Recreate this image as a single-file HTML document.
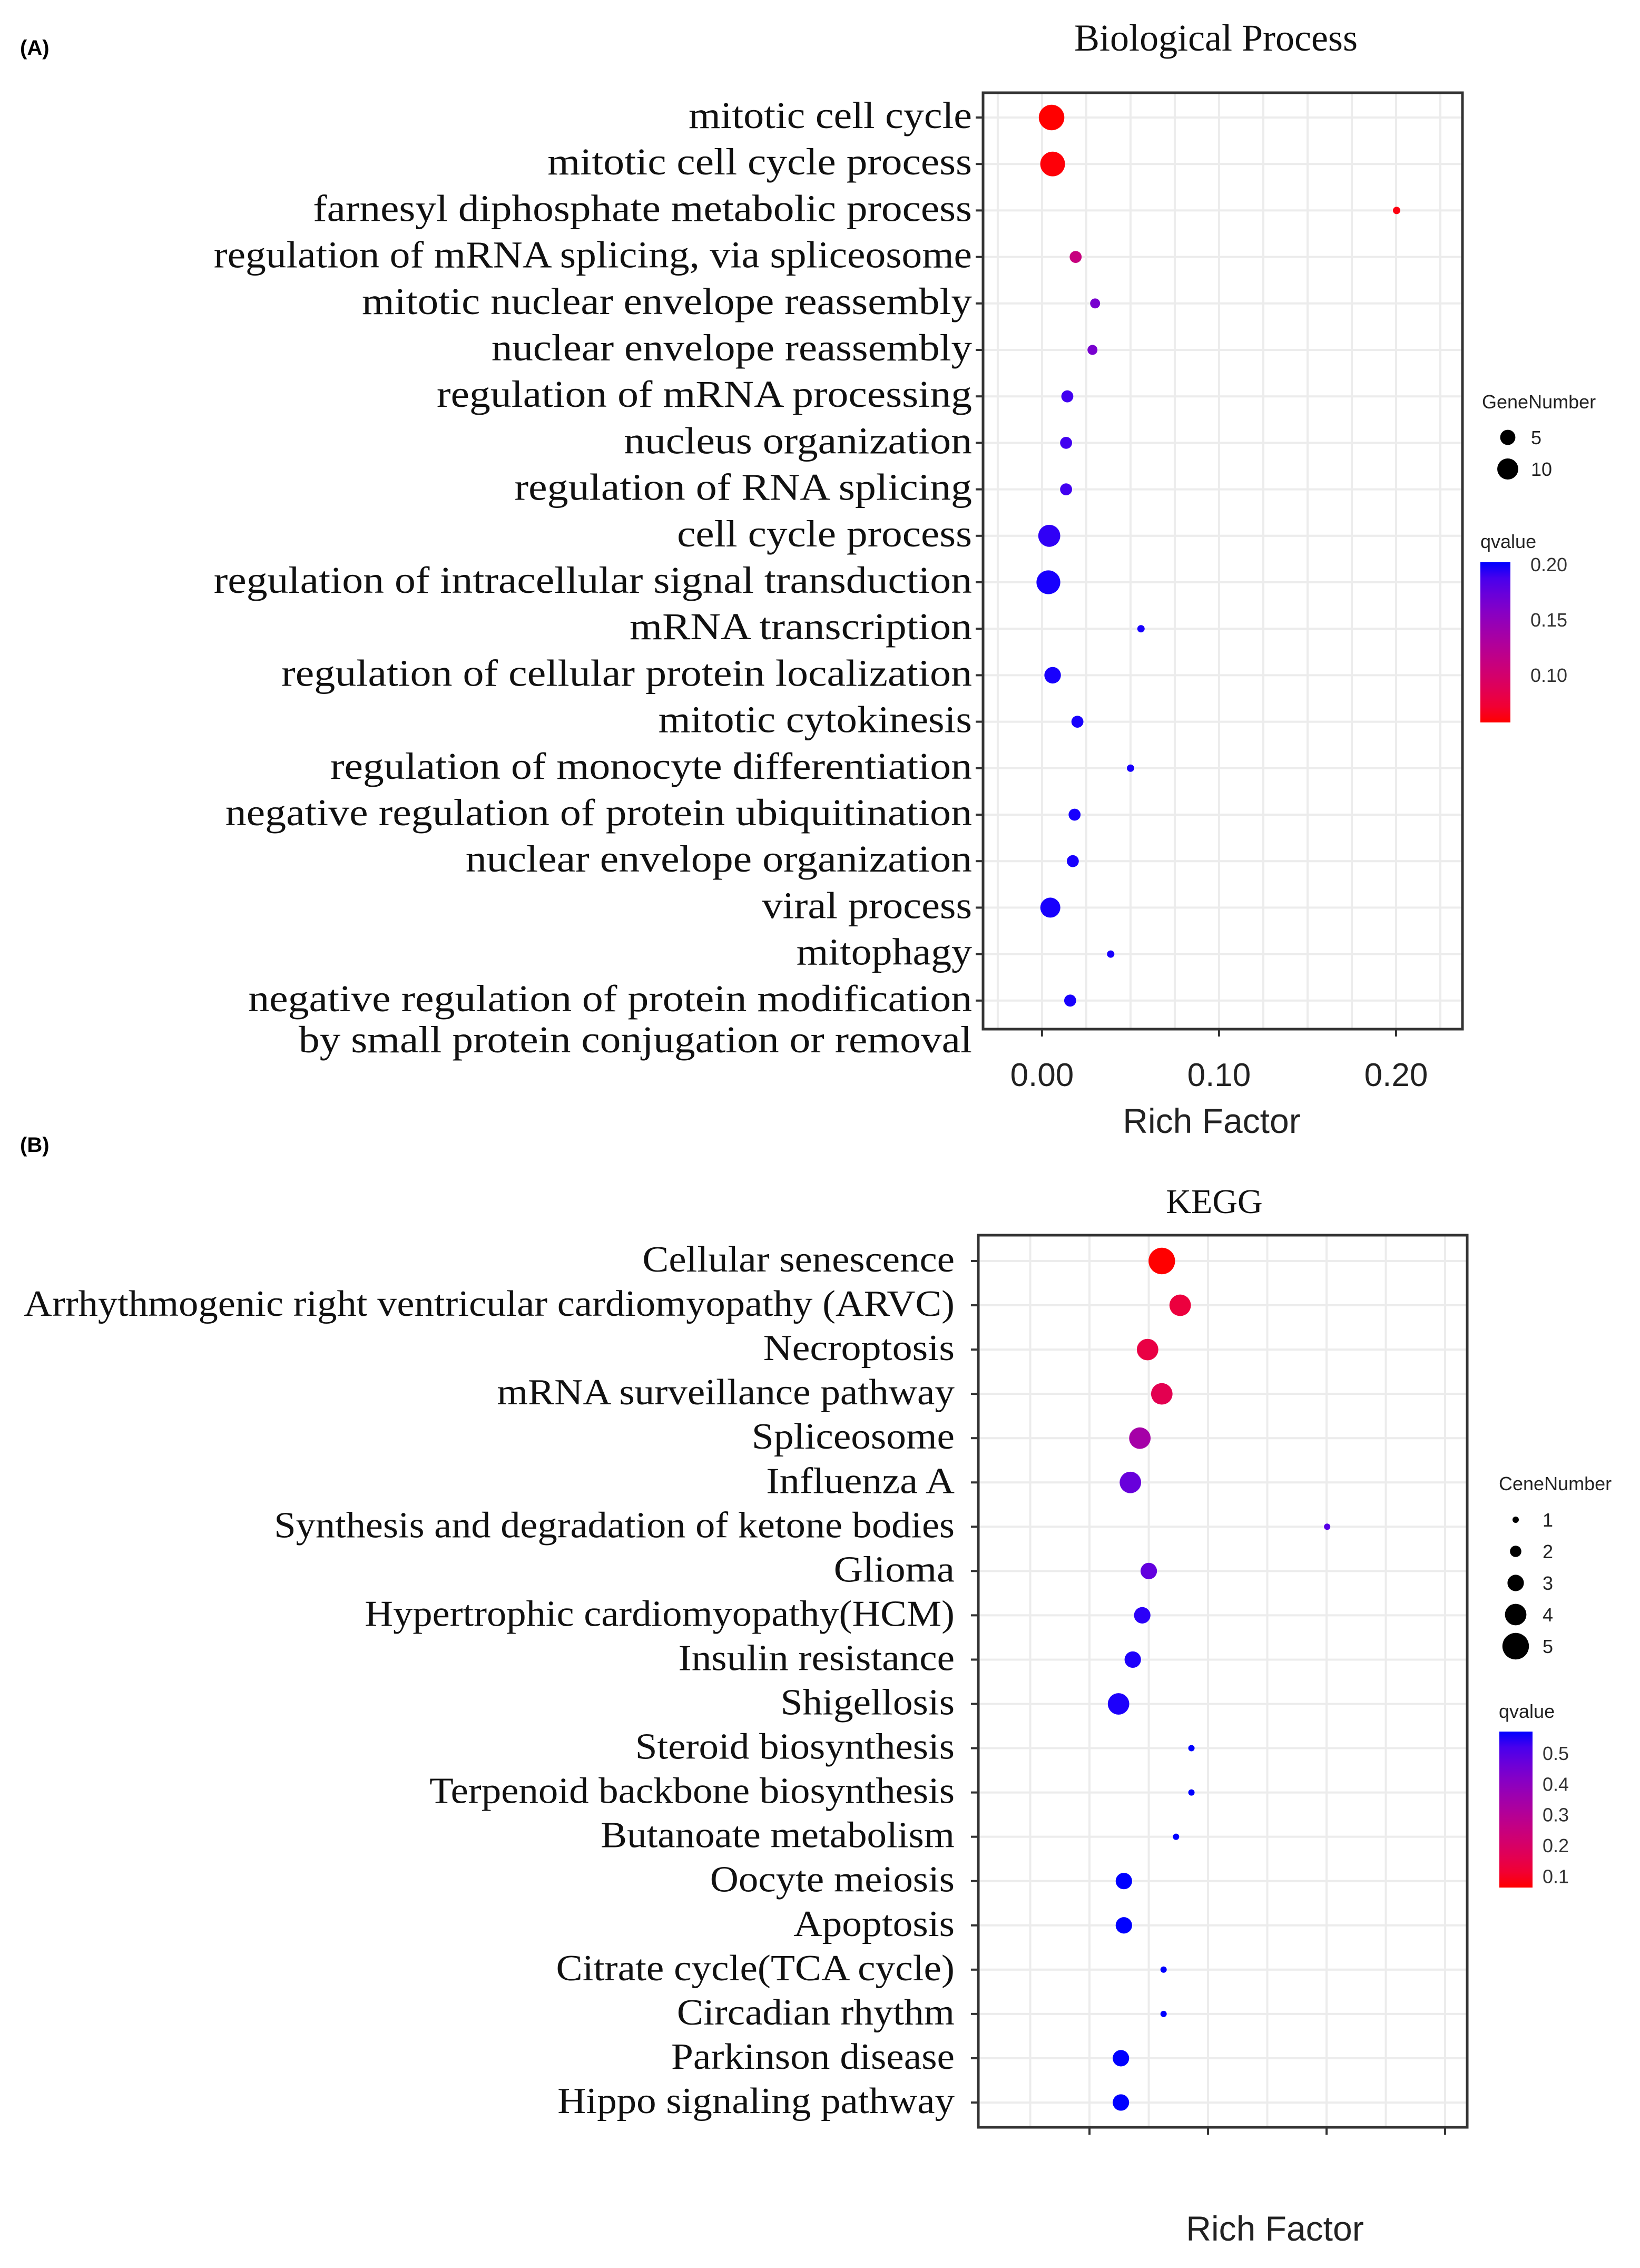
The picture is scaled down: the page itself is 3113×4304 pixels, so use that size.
<!DOCTYPE html>
<html><head><meta charset="utf-8">
<style>
html,body{margin:0;padding:0;background:#fff;}
svg{display:block;}
</style></head>
<body>
<svg id="chart" width="3113" height="4304" viewBox="0 0 3113 4304" xmlns="http://www.w3.org/2000/svg">
<rect x="0" y="0" width="3113" height="4304" fill="#fff"/>
<text x="38" y="104" font-family="Liberation Sans, sans-serif" font-weight="bold" font-size="40">(A)</text>
<text x="38" y="2186" font-family="Liberation Sans, sans-serif" font-weight="bold" font-size="40">(B)</text>
<g id="pa"></g>
<g id="pb"></g>
</svg>
<script>
// ---- Panel A data ----
const catsA = ["mitotic cell cycle","mitotic cell cycle process","farnesyl  diphosphate metabolic process","regulation of mRNA  splicing, via spliceosome","mitotic nuclear envelope reassembly","nuclear envelope reassembly","regulation of mRNA processing","nucleus organization","regulation of RNA splicing","cell cycle process","regulation of intracellular signal transduction","mRNA transcription","regulation of cellular protein localization","mitotic cytokinesis","regulation of monocyte differentiation","negative regulation of protein ubiquitination","nuclear envelope organization","viral process","mitophagy","negative regulation of protein modification"];
const richA = [0.0054,0.006,0.2003,0.019,0.030,0.0285,0.0143,0.0136,0.0136,0.0041,0.0036,0.0559,0.006,0.020,0.050,0.0184,0.0174,0.0047,0.0388,0.0159];
const genesA = [15,14,1,3,2,2,3,3,3,11,13,1,6,3,1,3,3,9,1,3];
const qA = [0.057,0.058,0.06,0.11,0.165,0.165,0.19,0.19,0.19,0.195,0.2,0.2,0.2,0.2,0.2,0.2,0.2,0.2,0.2,0.2];
const ticksA = [0.00,0.10,0.20];
const tickLabelsA = ["0.00","0.10","0.20"];
const legendGenesA = [5,10];
const legendQA = [0.20,0.15,0.10];
const leftA = [473,375,212,143,246,336,298,428,352,465,143,432,190,452,224,151,318,524,548,167];

// ---- Panel B data ----
const catsB = ["Cellular senescence","Arrhythmogenic right ventricular cardiomyopathy (ARVC)","Necroptosis","mRNA surveillance pathway","Spliceosome","Influenza A","Synthesis and degradation of ketone bodies","Glioma","Hypertrophic cardiomyopathy(HCM)","Insulin resistance","Shigellosis","Steroid biosynthesis","Terpenoid backbone biosynthesis","Butanoate metabolism","Oocyte meiosis","Apoptosis","Citrate cycle(TCA cycle)","Circadian rhythm","Parkinson disease","Hippo signaling pathway"];
const richB = [0.322,0.353,0.298,0.322,0.285,0.269,0.601,0.300,0.289,0.273,0.249,0.372,0.372,0.346,0.258,0.258,0.325,0.325,0.253,0.253];
const genesB = [5,4,4,4,4,4,1,3,3,3,4,1,1,1,3,3,1,1,3,3];
const qB = [0.06,0.13,0.14,0.16,0.34,0.47,0.5,0.48,0.55,0.56,0.56,0.57,0.57,0.57,0.57,0.57,0.57,0.57,0.57,0.57];
const ticksB = [0.2,0.4,0.6,0.8];
const legendGenesB = [1,2,3,4,5];
const legendQB = [0.5,0.4,0.3,0.2,0.1];
const leftB = [447,17,531,346,523,533,191,580,254,472,543,442,299,418,494,552,387,471,467,388];

const NS="http://www.w3.org/2000/svg";
function mk(parent,tag,attrs,txt){const e=document.createElementNS(NS,tag);for(const k in attrs)e.setAttribute(k,attrs[k]);if(txt!==undefined)e.textContent=txt;parent.appendChild(e);return e;}
function qColor(t){ // t 0 = red(low), 1 = blue(high)
  t=Math.max(0,Math.min(1,t));
  const r=Math.round(255*Math.pow(1-t,0.55)), g=Math.round(20*(1-Math.abs(2*t-1))*0), b=Math.round(255*Math.pow(t,0.7));
  return `rgb(${r},${g},${b})`;
}

function drawPanel(g, cfg){
  const {x0,x1,y0,y1,dom,row0,rowStep,cats,rich,genes,q,qmin,qmax,rFn,grid,labRight,lefts,fs,ticks,tickLabels}=cfg;
  const sx=v=>x0+(v-dom[0])/(dom[1]-dom[0])*(x1-x0);
  const sy=i=>row0+i*rowStep;
  const bg=mk(g,'rect',{x:x0,y:y0,width:x1-x0,height:y1-y0,fill:'#fff'});
  
  
  grid.forEach(v=>{if(sx(v)<=x0||sx(v)>=x1)return;
    const l=mk(g,'line',{x1:sx(v),x2:sx(v),y1:y0,y2:y1,stroke:'#ececec','stroke-width':4});
    
    });
  cats.forEach((c,i)=>{const l=mk(g,'line',{x1:x0,x2:x1,y1:sy(i),y2:sy(i),stroke:'#ececec','stroke-width':4});
    
    
    const t=mk(g,'line',{x1:x0-14,x2:x0,y1:sy(i),y2:sy(i),stroke:'#333','stroke-width':4});
    
    
    const tx=mk(g,'text',{x:labRight,y:sy(i)+20,'text-anchor':'end','font-family':'Liberation Serif, serif','font-size':fs,fill:'#111',textLength:Math.max(50,(cfg.labEnd-lefts[i])*2.731),lengthAdjust:'spacingAndGlyphs'},c);
    
    
  });
  ticks.forEach((v,k)=>{const t=mk(g,'line',{x1:sx(v),x2:sx(v),y1:y1,y2:y1+14,stroke:'#333','stroke-width':4});
    
    
    if(tickLabels){const tl=mk(g,'text',{x:sx(v),y:y1+108,'text-anchor':'middle','font-family':'Liberation Sans, sans-serif','font-size':62,fill:'#222'},tickLabels[k]);
      
      }
  });
  cats.forEach((c,i)=>{const p=mk(g,'circle',{cx:sx(rich[i]),cy:sy(i),r:rFn(genes[i]),fill:qColor((q[i]-qmin)/(qmax-qmin))});
    
    });
  const bd=mk(g,'rect',{x:x0,y:y0,width:x1-x0,height:y1-y0,fill:'none',stroke:'#333','stroke-width':5});
  
  
}

// Panel A
const ga=document.getElementById('pa');
const gridA=[];for(let v=-0.025;v<=0.2251;v+=0.025)gridA.push(v);
const rA=n=>6*Math.sqrt(n)+1;
drawPanel(ga,{x0:1866,x1:2776,y0:176,y1:1953,dom:[-0.0333,0.2375],row0:223,rowStep:88.2,cats:catsA,rich:richA,genes:genesA,q:qA,qmin:0.057,qmax:0.202,rFn:rA,grid:gridA,labRight:1845,labEnd:670,lefts:leftA,fs:72,ticks:ticksA,tickLabels:tickLabelsA});
let t=mk(ga,'text',{x:1845,y:223+20*88.2+10,'text-anchor':'end','font-family':'Liberation Serif, serif','font-size':72,fill:'#111',textLength:(670-202)*2.731,lengthAdjust:'spacingAndGlyphs'},"by small protein conjugation or removal");


t=mk(ga,'text',{x:2308,y:96,'text-anchor':'middle','font-family':'Liberation Serif, serif','font-size':72,fill:'#111'},"Biological Process");


t=mk(ga,'text',{x:2300,y:2150,'text-anchor':'middle','font-family':'Liberation Sans, sans-serif','font-size':66,fill:'#222'},"Rich Factor");


// legend A
t=mk(ga,'text',{x:2813,y:775,'font-family':'Liberation Sans, sans-serif','font-size':36,fill:'#222'},"GeneNumber");


legendGenesA.forEach((n,k)=>{const y=[830,890][k];
  const c=mk(ga,'circle',{cx:2862,cy:y,r:rA(n),fill:'#000'});
  
  
  const l=mk(ga,'text',{x:2906,y:y+13,'font-family':'Liberation Sans, sans-serif','font-size':36,fill:'#222'},String(n));
  
  });
t=mk(ga,'text',{x:2810,y:1040,'font-family':'Liberation Sans, sans-serif','font-size':36,fill:'#222'},"qvalue");


let defs=mk(document.getElementById('chart'),'defs',{});
let lg=mk(defs,'linearGradient',{id:'gA',x1:0,y1:1,x2:0,y2:0});
for(let k=0;k<=10;k++)mk(lg,'stop',{offset:k/10,'stop-color':qColor(k/10)});
t=mk(ga,'rect',{x:2810,y:1067,width:57,height:304,fill:'url(#gA)'});


const qyA=v=>1371-(v-0.057)/(0.202-0.057)*304;
legendQA.forEach(v=>{const l=mk(ga,'text',{x:2905,y:qyA(v)+13,'font-family':'Liberation Sans, sans-serif','font-size':36,fill:'#333'},v.toFixed(2));
  
  });

// Panel B
const gb=document.getElementById('pb');
const gridB=[];for(let v=0.1;v<=0.91;v+=0.1)gridB.push(v);
const rB=n=>6+4.8*(n-1);
drawPanel(gb,{x0:1857,x1:2785,y0:2344,y1:4037,dom:[0.0124,0.8373],row0:2393,rowStep:84.05,cats:catsB,rich:richB,genes:genesB,q:qB,qmin:0.063,qmax:0.57,rFn:rB,grid:gridB,labRight:1812,labEnd:664,lefts:leftB,fs:70,ticks:ticksB,tickLabels:null});
t=mk(gb,'text',{x:2305,y:2302,'text-anchor':'middle','font-family':'Liberation Serif, serif','font-size':66,fill:'#111'},"KEGG");


t=mk(gb,'text',{x:2420,y:4252,'text-anchor':'middle','font-family':'Liberation Sans, sans-serif','font-size':66,fill:'#222'},"Rich Factor");


t=mk(gb,'text',{x:2845,y:2828,'font-family':'Liberation Sans, sans-serif','font-size':36,fill:'#222'},"CeneNumber");


legendGenesB.forEach((n,k)=>{const y=2884+k*60;
  const c=mk(gb,'circle',{cx:2877,cy:y,r:rB(n),fill:'#000'});
  
  
  const l=mk(gb,'text',{x:2928,y:y+13,'font-family':'Liberation Sans, sans-serif','font-size':36,fill:'#222'},String(n));
  
  });
t=mk(gb,'text',{x:2845,y:3260,'font-family':'Liberation Sans, sans-serif','font-size':36,fill:'#222'},"qvalue");


t=mk(gb,'rect',{x:2846,y:3286,width:63,height:296,fill:'url(#gA)'});


const qyB=v=>3582-(v-0.063)/(0.57-0.063)*296;
legendQB.forEach(v=>{const l=mk(gb,'text',{x:2928,y:qyB(v)+13,'font-family':'Liberation Sans, sans-serif','font-size':36,fill:'#333'},v.toFixed(1));
  
  });
</script>
</body></html>
